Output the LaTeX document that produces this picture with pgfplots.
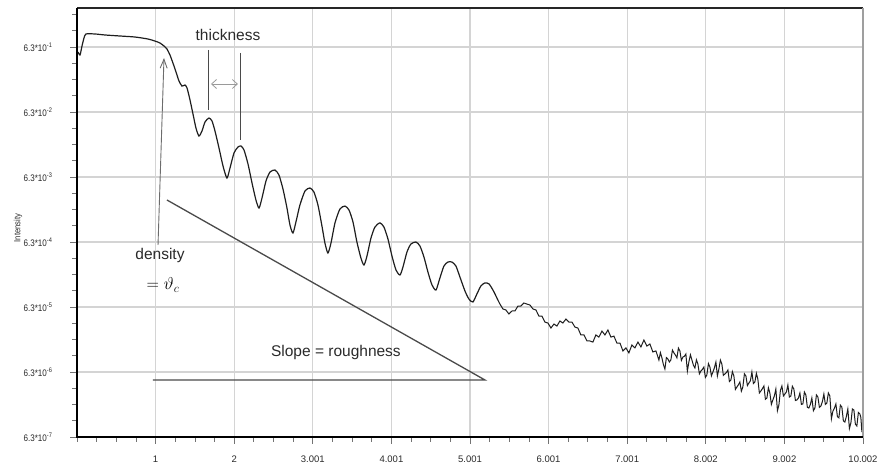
\documentclass[border=0pt]{standalone}
\usepackage{fontspec}
\setmainfont{Liberation Sans}
\newfontfamily\narrowsans[FakeStretch=0.85]{Liberation Sans}
\usepackage{pgfplots}
\pgfplotsset{compat=1.18}
\usetikzlibrary{arrows.meta}
\definecolor{gridgray}{HTML}{D4D4D4}
\definecolor{curve}{HTML}{1E1E1E}
\definecolor{annot}{HTML}{4A4A4A}
\definecolor{arrowgray}{HTML}{9A9A9A}
\definecolor{txt}{HTML}{2A2A2A}
\begin{document}
\begin{tikzpicture}
\useasboundingbox (-77bp,-37bp) rectangle (803bp,437bp);
\begin{axis}[
  at={(0,0)}, anchor=south west,
  scale only axis, width=786bp, height=429bp,
  ymode=log, xmin=0, xmax=10.002, ymin=6.3e-7, ymax=2.51,
  axis line style={draw=gray!70, line width=0.8bp},
  xtick={1,2,3.001,4.001,5.001,6.001,7.001,8.002,9.002,10.002},
  xticklabels={1,2,3.001,4.001,5.001,6.001,7.001,8.002,9.002,10.002},
  minor xtick={0,0.25,...,10},
  ytick={6.3e-7,6.3e-6,6.3e-5,6.3e-4,6.3e-3,6.3e-2,6.3e-1},
  yticklabels={{6.3*10\textsuperscript{-7}},{6.3*10\textsuperscript{-6}},{6.3*10\textsuperscript{-5}},{6.3*10\textsuperscript{-4}},{6.3*10\textsuperscript{-3}},{6.3*10\textsuperscript{-2}},{6.3*10\textsuperscript{-1}}},
  minor ytick={1.12e-6,1.99e-6,3.54e-6,1.12e-5,1.99e-5,3.54e-5,1.12e-4,1.99e-4,3.54e-4,1.12e-3,1.99e-3,3.54e-3,1.12e-2,1.99e-2,3.54e-2,1.12e-1,1.99e-1,3.54e-1,1.12,1.99},
  tick pos=left, tick align=outside,
  major tick length=7bp, minor tick length=5bp,
  tick style={color=gray!90!black, line width=0.7bp},
  grid=major, major grid style={gridgray, line width=1.1bp},
  minor grid style={draw=none},
  tick label style={text=txt},
  xticklabel style={font=\fontsize{9.5bp}{11bp}\selectfont, yshift=-8bp},
  yticklabel style={font=\narrowsans\fontsize{9.5bp}{11bp}\selectfont, xshift=-14bp},
]
\addplot[curve, line width=1.2bp, smooth, tension=0.4] coordinates {
(0.0127,5.28e-1) (0.0382,4.75e-1) (0.0636,0.653) (0.0891,0.867) (0.1145,1.00)
(0.229,1.00) (0.356,0.965) (0.547,0.931) (0.738,0.898) (0.903,0.837)
(0.992,0.779) (1.056,0.726) (1.107,0.653) (1.145,0.587) (1.183,0.475)
(1.221,0.357) (1.260,0.260) (1.298,0.189) (1.336,0.158) (1.374,0.164)
(1.400,0.148) (1.438,9.65e-2) (1.476,5.87e-2) (1.514,3.57e-2) (1.552,2.69e-2)
(1.590,3.21e-2) (1.629,4.42e-2) (1.679,5.10e-2) (1.718,4.58e-2) (1.756,3.21e-2)
(1.807,1.76e-2) (1.858,9.31e-3) (1.908,6.08e-3) (1.947,8.67e-3) (1.998,1.48e-2)
(2.048,1.82e-2) (2.087,1.89e-2) (2.125,1.64e-2) (2.176,1.00e-2) (2.227,5.10e-3)
(2.277,2.79e-3) (2.316,2.10e-3) (2.354,2.99e-3) (2.405,5.47e-3) (2.456,7.52e-3)
(2.519,8.07e-3) (2.570,6.76e-3) (2.621,4.12e-3) (2.672,2.10e-3) (2.710,1.15e-3)
(2.748,8.67e-4) (2.786,1.28e-3) (2.837,2.34e-3) (2.901,3.84e-3) (2.964,4.27e-3)
(3.015,3.70e-3) (3.066,2.34e-3) (3.117,1.11e-3) (3.155,6.08e-4) (3.193,4.27e-4)
(3.232,6.08e-4) (3.283,1.24e-3) (3.346,2.03e-3) (3.410,2.25e-3) (3.461,1.96e-3)
(3.512,1.28e-3) (3.562,6.30e-4) (3.613,3.57e-4) (3.652,2.79e-4) (3.690,3.84e-4)
(3.741,7.26e-4) (3.791,1.07e-3) (3.855,1.24e-3) (3.906,1.07e-3) (3.957,7.00e-4)
(4.008,3.84e-4) (4.059,2.34e-4) (4.110,1.96e-4) (4.148,2.60e-4) (4.199,4.42e-4)
(4.249,5.87e-4) (4.313,6.30e-4) (4.364,5.47e-4) (4.415,3.70e-4) (4.466,2.17e-4)
(4.517,1.38e-4) (4.568,1.15e-4) (4.618,1.76e-4) (4.669,2.69e-4) (4.720,3.10e-4)
(4.771,3.10e-4) (4.822,2.69e-4) (4.873,1.82e-4) (4.937,1.11e-4) (4.987,8.37e-5)
(5.038,7.52e-5) (5.089,1.00e-4) (5.140,1.33e-4) (5.191,1.48e-4) (5.242,1.43e-4)
(5.293,1.15e-4) (5.356,8.07e-5)
};
\addplot[curve, line width=1.0bp] coordinates {
(5.356,8.07e-5) (5.382,7.00e-5) (5.420,5.87e-5) (5.458,5.67e-5) (5.496,4.92e-5)
(5.535,5.47e-5) (5.573,5.47e-5) (5.611,6.53e-5) (5.649,6.53e-5) (5.687,7.26e-5)
(5.725,7.00e-5) (5.764,6.76e-5) (5.802,5.87e-5) (5.840,5.67e-5) (5.878,4.58e-5)
(5.916,4.58e-5) (5.954,3.70e-5) (5.993,3.57e-5) (6.031,2.99e-5) (6.069,3.45e-5)
(6.107,3.21e-5) (6.145,3.84e-5) (6.183,3.57e-5) (6.222,4.12e-5) (6.260,3.70e-5)
(6.298,3.70e-5) (6.336,3.10e-5) (6.374,2.99e-5) (6.412,2.34e-5) (6.451,2.34e-5)
(6.489,1.89e-5) (6.527,1.89e-5) (6.565,1.82e-5) (6.603,2.34e-5) (6.641,2.17e-5)
(6.680,2.69e-5) (6.718,2.34e-5) (6.756,2.79e-5) (6.794,2.17e-5) (6.832,2.25e-5)
(6.870,1.76e-5) (6.909,1.76e-5) (6.947,1.33e-5) (6.985,1.48e-5) (7.023,1.24e-5)
(7.061,1.64e-5) (7.099,1.48e-5) (7.138,1.82e-5) (7.176,1.53e-5) (7.214,1.96e-5)
(7.252,1.58e-5) (7.290,1.70e-5) (7.328,1.28e-5) (7.367,1.33e-5) (7.405,9.65e-6)
(7.424,1.25e-5) (7.443,1.04e-5) (7.462,8.2e-6) (7.481,7.00e-6) (7.500,1.05e-5)
(7.519,1.00e-5) (7.538,9.0e-6) (7.557,9.65e-6) (7.577,1.37e-5) (7.596,1.24e-5)
(7.615,1.15e-5) (7.634,1.04e-5) (7.653,1.47e-5) (7.672,1.33e-5) (7.691,9.5e-6)
(7.710,1.07e-5) (7.729,1.1e-5) (7.748,1.19e-5) (7.767,6.5e-6) (7.786,8.98e-6)
(7.806,1.16e-5) (7.825,9.65e-6) (7.844,8.0e-6) (7.863,7.26e-6) (7.882,9.7e-6)
(7.901,8.37e-6) (7.920,5.9e-6) (7.939,6.53e-6) (7.958,6.9e-6) (7.977,7.52e-6)
(7.996,5.2e-6) (8.015,5.67e-6) (8.035,8.5e-6) (8.054,7.52e-6) (8.073,5.5e-6)
(8.092,6.30e-6) (8.111,7.3e-6) (8.130,8.98e-6) (8.149,5.5e-6) (8.168,7.00e-6)
(8.187,9.6e-6) (8.206,8.37e-6) (8.225,5.6e-6) (8.244,5.87e-6) (8.264,6.2e-6)
(8.283,6.76e-6) (8.302,4.5e-6) (8.321,4.75e-6) (8.340,6.4e-6) (8.359,5.47e-6)
(8.378,3.4e-6) (8.397,3.70e-6) (8.416,4.0e-6) (8.435,4.42e-6) (8.454,3.2e-6)
(8.473,3.70e-6) (8.493,5.9e-6) (8.512,5.47e-6) (8.531,3.9e-6) (8.550,4.27e-6)
(8.569,4.6e-6) (8.588,6.30e-6) (8.607,4.2e-6) (8.626,4.42e-6) (8.645,6.0e-6)
(8.664,4.92e-6) (8.683,3.0e-6) (8.702,3.21e-6) (8.722,3.5e-6) (8.741,3.84e-6)
(8.760,2.4e-6) (8.779,2.51e-6) (8.798,3.6e-6) (8.817,2.99e-6) (8.836,2.0e-6)
(8.855,2.34e-6) (8.874,2.7e-6) (8.893,3.45e-6) (8.913,1.6e-6) (8.932,1.96e-6)
(8.951,3.3e-6) (8.970,3.84e-6) (8.989,2.7e-6) (9.008,2.89e-6) (9.027,3.1e-6)
(9.046,3.97e-6) (9.065,2.6e-6) (9.084,2.69e-6) (9.103,3.8e-6) (9.122,3.45e-6)
(9.142,2.3e-6) (9.161,2.34e-6) (9.180,2.5e-6) (9.199,2.99e-6) (9.218,2.0e-6)
(9.237,2.03e-6) (9.256,3.1e-6) (9.275,2.79e-6) (9.294,1.8e-6) (9.313,1.76e-6)
(9.332,2.0e-6) (9.351,2.51e-6) (9.371,1.6e-6) (9.390,1.76e-6) (9.409,2.8e-6)
(9.428,2.60e-6) (9.447,1.8e-6) (9.466,1.89e-6) (9.485,2.2e-6) (9.504,2.89e-6)
(9.523,2.0e-6) (9.542,2.10e-6) (9.561,3.0e-6) (9.580,2.69e-6) (9.600,1.2e-6)
(9.619,1.58e-6) (9.638,1.75e-6) (9.657,2.03e-6) (9.676,1.3e-6) (9.695,1.24e-6)
(9.714,1.95e-6) (9.733,1.82e-6) (9.752,1.12e-6) (9.771,1.07e-6) (9.790,1.3e-6)
(9.809,1.70e-6) (9.829,8.5e-7) (9.848,1.04e-6) (9.867,1.7e-6) (9.886,1.64e-6)
(9.905,9.9e-7) (9.924,9.31e-7) (9.943,1.5e-6) (9.962,1.43e-6) (9.975,1.25e-6)
(9.988,7.52e-7)
};
% thickness annotation
\draw[annot, line width=0.9bp] (axis cs:1.667,0.567) -- (axis cs:1.667,0.0676);
\draw[annot, line width=0.9bp] (axis cs:2.074,0.510) -- (axis cs:2.074,0.0234);
\draw[arrowgray, line width=0.8bp, {Straight Barb[length=5bp,width=9bp]}-{Straight Barb[length=5bp,width=9bp]}] (axis cs:1.705,0.170) -- (axis cs:2.048,0.170);
\node[text=txt, font=\fontsize{15.5bp}{17bp}\selectfont] at (axis cs:1.921,0.965) {thickness};
% density annotation
\draw[gray!85!black, line width=0.9bp, -{Straight Barb[length=9bp,width=7bp]}] (axis cs:1.031,5.67e-4) -- (axis cs:1.107,0.427);
\node[text=txt, font=\fontsize{15.5bp}{17bp}\selectfont] at (axis cs:1.056,3.84e-4) {density};
\node[text=black, font=\fontsize{17bp}{19bp}\selectfont] at (axis cs:1.094,1.38e-4) {$=\vartheta_c$};
% slope annotation
\draw[annot, line width=1.3bp] (axis cs:1.145,2.79e-3) -- (axis cs:5.191,4.75e-6) -- (axis cs:0.967,4.75e-6);
\node[text=txt, font=\fontsize{15.5bp}{17bp}\selectfont] at (axis cs:3.295,1.28e-5) {Slope = roughness};
\end{axis}
% frame: thick left and bottom, darker top
\draw[black!85, line width=1.5bp] (0,429bp) -- (786bp,429bp);
\draw[gray!75, line width=1.5bp] (786bp,429bp) -- (786bp,0);
\draw[black, line width=2.5bp] (0,429bp) -- (0,0) -- (786bp,0);
\node[rotate=90, text=txt, font=\narrowsans\fontsize{9bp}{10bp}\selectfont] at (-59bp,209bp) {Intensity};
\end{tikzpicture}
\end{document}
